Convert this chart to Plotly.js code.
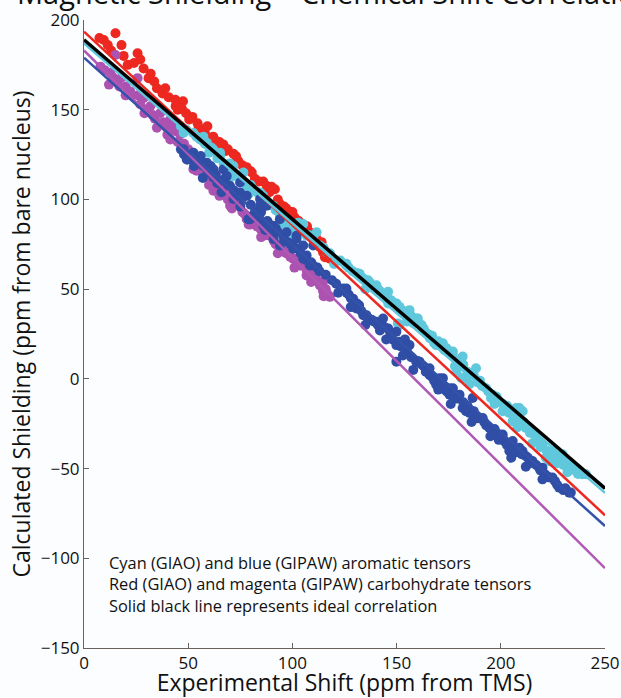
<!DOCTYPE html>
<html>
<head>
<meta charset="utf-8">
<script src="https://cdn.plot.ly/plotly-3.0.1.min.js"></script>
<style>html,body{margin:0;padding:0;background:#fcfdfe;}</style>
</head>
<body>
<div id="chart" style="width:621px;height:698px;"></div>
<script>
// ---- Data ----
const redX = [7.4,9.5,11.4,15.1,19,21,24,25.7,28.6,31,33.7,35,37.7,40.6,43.8,45,47.5,47,50.5,52,54.5,57,59.2,61.3,63,64.2,66.9,68,71.7,74,76,79.7,80.5,82,84,87.7,90,91.6,94,96,98.8,101,104,106.8,108.4,110,111.6,113.2,114.7,116,114,115.6,118,
  58,62,69,73,78,86,89,93,97,100,103,107,112,
  13,18,27,32,39,44,49,55,65];
const redY = [190,188.9,186,192.6,180,175,176,181.5,173,167.6,165.7,162,159,157,155.6,150,154.7,150.5,144.5,146,142.5,138,140.8,134.3,133,130,130.6,127,125.5,121.4,119,115.9,115,111.5,110,107.5,107,105.7,97.4,96,93,90,86,83.5,81.7,79,78,73.4,70.6,70.5,76.2,67.8,67,
  137,135,128,124,118,110,104,100,95,93,88,85,76,
  183,186,178,170,162,152,148,140,132];

const magX = [7.9,12.7,15.1,15.9,18,20,22.2,25.7,26,28.6,31.8,34,36.6,39.8,41.4,41.4,44,46.2,48,51.8,52.5,55,57.3,60,62.1,63.7,66,68.5,70.1,72,74.9,76,78.1,81,84.7,86,89.2,91,94,94,97,100.4,102,104,106.8,108,110,111,113.2,114.7,114.7,116,118,
  10,14,17,23,27,30,33,38,43,45,50,53,56,58,61,64,67,69,73,77,80,83,87,92,96,99,103,107,112,117,
  12,20,29,35,40,47,54,60,65,71,79,85,93,101,109,115];
const magY = [174,170.4,180.5,165.7,168,163,160.2,167.6,158,156.5,151.9,145,148.2,140.8,144.5,133.4,138,136.2,131,126,116.8,122,118.6,114,104.8,113,108,103.9,96.5,101,96.5,93,89,88,83.5,81.7,79.8,77,72.5,74.3,70,66.9,66.9,63,57.6,61,59.5,56,52.1,54,49,50,45.7,
  172,168,163,158,153,150,147,143,140,132,128,124,120,116,112,108,104,100,98,92,86,85,80,75,71,68,65,60,55,47,
  164,158,148,140,136,128,116,108,102,95,86,79,70,62,54,46];

const cyanX = [46.5,47.8,52.5,55.7,57.3,59,62,65.3,65.3,66.9,68.5,70,71.7,73.3,76.5,78.1,78.1,81,84.5,86,84.4,88,90.8,94,97.2,99.6,100.4,102.8,104,105.2,106.8,110,111.6,113.2,116.4,118,121,125.9,125.9,129,132.3,132.3,136.3,138,140.3,142,145.1,145.9,148,151.4,151.4,150.6,151.4,154,156.2,159.4,160.2,163,165.9,166,169,170.6,172.2,174,177,177,178.8,181.7,181,183.3,186,188.1,190,192.9,195.3,196.1,199.3,200.9,203,205.7,207.3,208.9,210.5,212,213.6,216,218.4,220,221.6,223.2,224.8,226,228,229.6,231,232.8,234.3,236,239.1,240.8,
  49,54,58,61,64,67,69,72,75,80,83,86,89,92,95,98,101,108,115,123,127,131,134,137,141,144,147,150,153,157,158,162,164,167,170,173,176,179,182,184,187,189,191,194,198,201,204,206,209,211,214,217,219,222,225,227,230,233,237,
  60,70,79,96,120,135,146,155,168,178,185,197,208,215,224,232];
const cyanY = [140.8,137.2,137,133.4,135,131.6,128,126,124.2,111.3,115,120,118.6,113,115,108.5,107.5,106,103.9,102,96.5,99,96.5,91,89,85.4,79.8,87,82,86.3,79.8,78,81.7,74.3,70.6,70,66,64.1,63.2,60,58.6,57.6,54.9,52,52.1,49,47.5,48.5,43,40.1,39.2,30.9,29.9,36,38.3,33.6,33.6,28,24.4,22.6,18.8,18.8,19.8,17,13.3,15.2,4.1,12.4,0.5,0.4,3,5.9,-1,-5.2,-10.7,-8.9,-12.6,-18.1,-15,-23.6,-16.2,-16.2,-18.1,-27.3,-27.3,-31,-34.7,-36.6,-44,-45.8,-40.2,-43,-45.8,-42,-45.8,-47.7,-49.5,-51,-53.2,-53.2,
  139,135,131,129,123,120,117,115,112,108,104,98,97,94,90,87,84,80,73,66,62,59,56,54,50,47,44,42,38,35,31,30,26,24,21,16,14,10,8,4,2,-2,-4,-7,-10,-14,-19,-20,-22,-24,-30,-33,-38,-40,-44,-47,-48,-51,-53,
  126,112,103,86,64,50,42,32,20,7,-3,-14,-27,-36,-46,-52];

const blueX = [46.5,47.8,49.3,49.7,52.5,52.5,52.8,55.7,56,58.9,59,60.8,62.1,62.1,63.7,65,66.9,68.5,70.1,71.7,74.9,74.9,78.1,78.9,79.7,82,84.4,84.5,84.5,86,87.7,90.8,90.8,92,94,94,95.6,97.2,98,100.4,102,102,103.6,105.2,105.2,106.8,108.4,110,110,113,116,119,124.3,125.9,127,129.1,130.7,132,134,135.5,138,140.3,143.5,146,149.9,149.9,149.9,151.4,154,156.2,159.4,161,163,165.8,165.8,169,170.6,172.2,175.4,175.4,177,178.5,180.2,181.7,183.3,186.5,188.1,191.3,194.5,197,200.9,200.9,204.1,205.7,208.9,210.4,212,215.2,218.4,220,223.2,224.8,228,232.8,233.6,
  48,51,54,57,60,63,64,67,69,72,73,76,80,81,85,88,89,93,96,99,101,104,107,109,112,121,126,128,131,133,136,139,141,144,147,148,152,155,157,160,162,164,167,168,171,173,174,177,179,182,184,185,187,189,192,193,196,198,199,202,203,206,207,210,213,214,217,219,221,222,226,227,230,231,
  122,128,135,142,145,153,158,170,176,186,195,205,212,220,57,66,75,83,87,91];
const blueY = [127.9,127.9,122.3,122.3,126,124.2,118.6,122.3,124.2,120.5,116.8,118.6,116.8,112.2,111.3,110,116.8,113,107.5,100.2,103.9,109.4,102,89,89,93,89,96.5,100.2,85.4,96.5,81.7,85.4,84,74.3,89,79.8,81.7,76,72.5,78,79.8,72.5,66.9,74.3,68.8,63.2,63.2,74.3,60,58,55,50.3,50.3,47,44.7,39.2,41,35.5,35.5,33,31.8,33.6,28,26.3,18.8,9.6,20.7,22,18.8,9.6,9.6,7,5.9,2.2,-3.3,0.4,0.4,-5.2,-8.9,-5.2,-8.9,-8.9,-16.2,-18.1,-10.7,-21.8,-21.8,-27.3,-28,-31,-32.9,-40.2,-34.7,-38.4,-40.2,-43,-45.8,-49.5,-49.5,-55,-55,-60.6,-63.4,-63.4,
  125,124,121,119,115,114,109,111,108,105,102,101,97,91,93,88,86,82,78,75,73,70,66,65,62,53,48,45,42,38,34,32,30,29,25,22,18,15,12,10,8,4,1,-1,-2,-4,-7,-9,-11,-13,-15,-19,-18,-22,-24,-26,-29,-30,-34,-35,-37,-39,-41,-42,-44,-47,-48,-51,-53,-54,-57,-59,-62,-61,
  48,40,30,27,22,13,5,-6,-14,-24,-32,-44,-49,-56,112,104,96,90,83,78];

// Fitted correlation lines (values at x = 0 and x = 250)
const fitX = [0, 250];
const redFit = [193.5, -76];
const magFit = [183, -105.5];
const blueFit = [179, -82];
const cyanFit = [187, -63.5];
const idealFit = [189, -61];

const xTicks = [0, 50, 100, 150, 200, 250];
const yTicks = [-150, -100, -50, 0, 50, 100, 150, 200];

const FONT = 'Open Sans, Noto Sans, sans-serif';
const C_RED = 'rgb(236,40,32)';
const C_MAG = 'rgb(172,82,176)';
const C_CYAN = 'rgb(96,200,220)';
const C_BLUE = 'rgb(48,78,166)';

function pts(x, y, color) {
  return {x: x, y: y, type: 'scatter', mode: 'markers', hoverinfo: 'skip',
    marker: {color: color, size: 10, line: {width: 0}}, cliponaxis: false};
}
function fit(y, color, w) {
  return {x: fitX, y: y, type: 'scatter', mode: 'lines', hoverinfo: 'skip',
    line: {color: color, width: w}};
}

const traces = [
  pts(redX, redY, C_RED),
  pts(magX, magY, C_MAG),
  pts(cyanX, cyanY, C_CYAN),
  pts(blueX, blueY, C_BLUE),
  fit(magFit, 'rgb(176,88,180)', 2.5),
  fit(blueFit, 'rgb(52,82,170)', 2.5),
  fit(redFit, C_RED, 2.5),
  fit(cyanFit, C_CYAN, 2.5),
  fit(idealFit, '#000000', 3.5)
];

const axisCommon = {
  showgrid: false, zeroline: false, showline: true, linecolor: '#6a605c', linewidth: 1,
  ticks: 'inside', ticklen: 5, tickwidth: 1, tickcolor: '#6a605c', mirror: false,
  tickfont: {family: FONT, size: 17, color: '#111'}
};

const layout = {
  width: 621, height: 698,
  margin: {l: 84, r: 16, t: 20, b: 50},
  paper_bgcolor: '#fcfdfe', plot_bgcolor: '#fcfdfe',
  showlegend: false,
  font: {family: FONT, color: '#111'},
  xaxis: Object.assign({}, axisCommon, {
    range: [0, 250], tickvals: xTicks, ticktext: xTicks.map(String),
    title: {text: 'Experimental Shift (ppm from TMS)', font: {family: FONT, size: 23, color: '#111'}, standoff: 3}
  }),
  yaxis: Object.assign({}, axisCommon, {
    range: [-150, 200], tickvals: yTicks,
    title: {text: 'Calculated Shielding (ppm from bare nucleus)', font: {family: FONT, size: 23, color: '#111'}, standoff: 3}
  }),
  annotations: [
    {text: 'Magnetic Shielding \u2013 Chemical Shift Correlation', xref: 'paper', yref: 'paper',
     x: 0.481, y: 1, xanchor: 'center', yanchor: 'middle', yshift: 28, showarrow: false,
     font: {family: FONT, size: 29, color: '#111'}},
    {text: 'Cyan (GIAO) and blue (GIPAW) aromatic tensors<br>Red (GIAO) and magenta (GIPAW) carbohydrate tensors<br>Solid black line represents ideal correlation',
     xref: 'paper', yref: 'paper', x: 0.044, y: 0.102, xanchor: 'left', yanchor: 'middle', align: 'left',
     showarrow: false, font: {family: FONT, size: 16.4, color: '#111'}}
  ]
};

Plotly.newPlot('chart', traces, layout, {staticPlot: true, displayModeBar: false});
</script>
</body>
</html>
